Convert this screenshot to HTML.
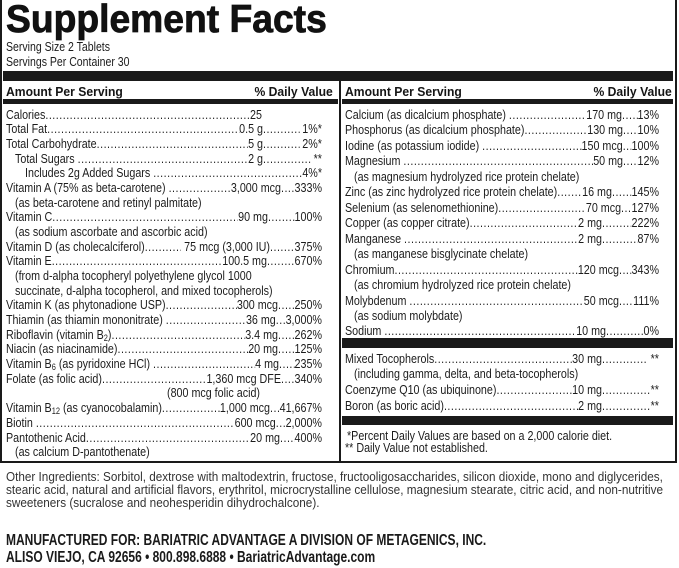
<!DOCTYPE html>
<html><head><meta charset="utf-8">
<style>
html,body{margin:0;padding:0}
body{width:679px;height:568px;position:relative;background:#fff;overflow:hidden;font-family:"Liberation Sans",Arial,sans-serif;color:#1c1c1c}
.b{position:absolute;background:#1a1a1a}
.t{position:absolute;white-space:nowrap;transform-origin:0 0}
.r{position:absolute;display:flex;white-space:nowrap;font-size:13px;line-height:15px;height:15px;transform-origin:0 0;transform:scaleX(.825)}
.r .l,.r .a,.r .p{flex:none}
.r .d{flex:1 1 0;min-width:0;overflow:hidden;letter-spacing:.6px}
.r .d::before{content:"..........................................................................................................................................................................................................."}
.r .rb{display:flex;flex:none}
.s{position:absolute;white-space:nowrap;font-size:13px;line-height:15px;transform-origin:0 0;transform:scaleX(.825)}
.sb{font-size:9px;position:relative;top:2px}
.h{position:absolute;white-space:nowrap;font-size:13px;line-height:15px;font-weight:bold;color:#151515}
</style></head><body>

<!-- frame -->
<div class="b" style="left:0;top:0;width:2px;height:463px"></div>
<div class="b" style="left:675px;top:0;width:2px;height:463px"></div>
<div class="b" style="left:0;top:461px;width:677px;height:2px"></div>
<div class="b" style="left:3px;top:71px;width:670px;height:10px"></div>
<div class="b" style="left:339px;top:81px;width:2px;height:381px"></div>
<div class="b" style="left:3px;top:99px;width:335px;height:5px"></div>
<div class="b" style="left:342px;top:99px;width:331px;height:5px"></div>
<div class="b" style="left:342px;top:338px;width:331px;height:10px"></div>
<div class="b" style="left:342px;top:416px;width:331px;height:9px"></div>

<!-- title -->
<div class="t" style="left:6px;top:0;font-size:39px;line-height:39px;font-weight:bold;color:#111;-webkit-text-stroke:0.8px #111;transform:scaleX(.955)">Supplement Facts</div>
<div class="t" style="left:6px;top:39px;font-size:13px;line-height:15px;transform:scaleX(.81)">Serving Size 2 Tablets</div>
<div class="t" style="left:6px;top:54px;font-size:13px;line-height:15px;transform:scaleX(.81)">Servings Per Container 30</div>

<!-- headers -->
<div class="h" style="left:6px;top:84px;transform-origin:0 0;transform:scaleX(.935)">Amount Per Serving</div>
<div class="h" style="right:346px;top:84px;transform-origin:100% 0;transform:scaleX(.935)">% Daily Value</div>
<div class="h" style="left:345px;top:84px;transform-origin:0 0;transform:scaleX(.935)">Amount Per Serving</div>
<div class="h" style="right:7px;top:84px;transform-origin:100% 0;transform:scaleX(.935)">% Daily Value</div>

<!-- left column -->
<div class="r" style="left:6px;top:106.5px;width:310.3px"><span class="l">Calories</span><span class="d"></span><span class="a">25</span></div>
<div class="r" style="left:6px;top:121.2px;width:383px"><span class="l">Total Fat</span><span class="d"></span><span class="a">0.5 g</span><span class="rb" style="width:71.5px"><span class="d"></span><span class="p">&nbsp;1%*</span></span></div>
<div class="r" style="left:6px;top:135.9px;width:383px"><span class="l">Total Carbohydrate</span><span class="d"></span><span class="a">5 g</span><span class="rb" style="width:71.5px"><span class="d"></span><span class="p">&nbsp;2%*</span></span></div>
<div class="r" style="left:15px;top:150.5px;width:372.1px"><span class="l">Total Sugars&nbsp;</span><span class="d"></span><span class="a">2 g</span><span class="rb" style="width:71.5px"><span class="d"></span><span class="p">&nbsp;**</span></span></div>
<div class="r" style="left:25px;top:165.2px;width:360px"><span class="l">Includes 2g Added Sugars&nbsp;</span><span class="d"></span><span class="p">4%*</span></div>
<div class="r" style="left:6px;top:179.9px;width:383px"><span class="l">Vitamin A (75% as beta-carotene)&nbsp;</span><span class="d"></span><span class="a">3,000 mcg</span><span class="rb" style="width:49.7px"><span class="d"></span><span class="p">333%</span></span></div>
<div class="s" style="left:15px;top:194.6px">(as beta-carotene and retinyl palmitate)</div>
<div class="r" style="left:6px;top:209.3px;width:383px"><span class="l">Vitamin C</span><span class="d"></span><span class="a">90 mg</span><span class="rb" style="width:65.5px"><span class="d"></span><span class="p">100%</span></span></div>
<div class="s" style="left:15px;top:223.9px">(as sodium ascorbate and ascorbic acid)</div>
<div class="r" style="left:6px;top:238.6px;width:383px"><span class="l">Vitamin D (as cholecalciferol)</span><span class="d"></span><span class="a">&nbsp;75 mcg (3,000 IU)</span><span class="rb" style="width:63px"><span class="d"></span><span class="p">375%</span></span></div>
<div class="r" style="left:6px;top:253.3px;width:383px"><span class="l">Vitamin E</span><span class="d"></span><span class="a">100.5 mg</span><span class="rb" style="width:66.7px"><span class="d"></span><span class="p">670%</span></span></div>
<div class="s" style="left:15px;top:268px">(from d-alpha tocopheryl polyethylene glycol 1000</div>
<div class="s" style="left:15px;top:282.7px">succinate, d-alpha tocopherol, and mixed tocopherols)</div>
<div class="r" style="left:6px;top:297.3px;width:383px"><span class="l">Vitamin K (as phytonadione USP)</span><span class="d"></span><span class="a">300 mcg</span><span class="rb" style="width:53.3px"><span class="d"></span><span class="p">250%</span></span></div>
<div class="r" style="left:6px;top:312px;width:383px"><span class="l">Thiamin (as thiamin mononitrate)&nbsp;</span><span class="d"></span><span class="a">36 mg</span><span class="rb" style="width:56px"><span class="d"></span><span class="p">3,000%</span></span></div>
<div class="r" style="left:6px;top:326.7px;width:383px"><span class="l">Riboflavin (vitamin B<span class="sb">2</span>)</span><span class="d"></span><span class="a">3.4 mg</span><span class="rb" style="width:53.3px"><span class="d"></span><span class="p">262%</span></span></div>
<div class="r" style="left:6px;top:341.4px;width:383px"><span class="l">Niacin (as niacinamide)</span><span class="d"></span><span class="a">20 mg</span><span class="rb" style="width:53.3px"><span class="d"></span><span class="p">125%</span></span></div>
<div class="r" style="left:6px;top:356.1px;width:383px"><span class="l">Vitamin B<span class="sb">6</span> (as pyridoxine HCl)&nbsp;</span><span class="d"></span><span class="a">4 mg</span><span class="rb" style="width:52.1px"><span class="d"></span><span class="p">235%</span></span></div>
<div class="r" style="left:6px;top:370.7px;width:383px"><span class="l">Folate (as folic acid)</span><span class="d"></span><span class="a">1,360 mcg DFE</span><span class="rb" style="width:49.7px"><span class="d"></span><span class="p">340%</span></span></div>
<div class="s" style="left:167px;top:385.4px">(800 mcg folic acid)</div>
<div class="r" style="left:6px;top:400.1px;width:383px"><span class="l">Vitamin B<span class="sb">12</span> (as cyanocobalamin)</span><span class="d"></span><span class="a">1,000 mcg</span><span class="rb" style="width:63px"><span class="d"></span><span class="p">41,667%</span></span></div>
<div class="r" style="left:6px;top:414.8px;width:383px"><span class="l">Biotin&nbsp;</span><span class="d"></span><span class="a">600 mcg</span><span class="rb" style="width:56px"><span class="d"></span><span class="p">2,000%</span></span></div>
<div class="r" style="left:6px;top:429.5px;width:383px"><span class="l">Pantothenic Acid</span><span class="d"></span><span class="a">20 mg</span><span class="rb" style="width:50.9px"><span class="d"></span><span class="p">400%</span></span></div>
<div class="s" style="left:15px;top:444.1px">(as calcium D-pantothenate)</div>

<!-- right column -->
<div class="r" style="left:345px;top:106.5px;width:380.6px"><span class="l">Calcium (as dicalcium phosphate)&nbsp;</span><span class="d"></span><span class="a">170 mg</span><span class="rb" style="width:44.8px"><span class="d"></span><span class="p">13%</span></span></div>
<div class="r" style="left:345px;top:122px;width:380.6px"><span class="l">Phosphorus (as dicalcium phosphate)</span><span class="d"></span><span class="a">130 mg</span><span class="rb" style="width:43.6px"><span class="d"></span><span class="p">10%</span></span></div>
<div class="r" style="left:345px;top:137.5px;width:380.6px"><span class="l">Iodine (as potassium iodide)&nbsp;</span><span class="d"></span><span class="a">150 mcg</span><span class="rb" style="width:44px"><span class="d"></span><span class="p">100%</span></span></div>
<div class="r" style="left:345px;top:153px;width:380.6px"><span class="l">Magnesium&nbsp;</span><span class="d"></span><span class="a">50 mg</span><span class="rb" style="width:43.6px"><span class="d"></span><span class="p">12%</span></span></div>
<div class="s" style="left:354px;top:168.5px">(as magnesium hydrolyzed rice protein chelate)</div>
<div class="r" style="left:345px;top:184px;width:380.6px"><span class="l">Zinc (as zinc hydrolyzed rice protein chelate)</span><span class="d"></span><span class="a">16 mg</span><span class="rb" style="width:57px"><span class="d"></span><span class="p">145%</span></span></div>
<div class="r" style="left:345px;top:199.5px;width:380.6px"><span class="l">Selenium (as selenomethionine)</span><span class="d"></span><span class="a">70 mcg</span><span class="rb" style="width:46px"><span class="d"></span><span class="p">127%</span></span></div>
<div class="r" style="left:345px;top:215px;width:380.6px"><span class="l">Copper (as copper citrate)</span><span class="d"></span><span class="a">2 mg</span><span class="rb" style="width:69.1px"><span class="d"></span><span class="p">222%</span></span></div>
<div class="r" style="left:345px;top:230.5px;width:380.6px"><span class="l">Manganese&nbsp;</span><span class="d"></span><span class="a">2 mg</span><span class="rb" style="width:69.1px"><span class="d"></span><span class="p">87%</span></span></div>
<div class="s" style="left:354px;top:246px">(as manganese bisglycinate chelate)</div>
<div class="r" style="left:345px;top:261.5px;width:380.6px"><span class="l">Chromium</span><span class="d"></span><span class="a">120 mcg</span><span class="rb" style="width:48.5px"><span class="d"></span><span class="p">343%</span></span></div>
<div class="s" style="left:354px;top:277px">(as chromium hydrolyzed rice protein chelate)</div>
<div class="r" style="left:345px;top:292.5px;width:380.6px"><span class="l">Molybdenum&nbsp;</span><span class="d"></span><span class="a">50 mcg</span><span class="rb" style="width:48.5px"><span class="d"></span><span class="p">111%</span></span></div>
<div class="s" style="left:354px;top:308px">(as sodium molybdate)</div>
<div class="r" style="left:345px;top:323px;width:380.6px"><span class="l">Sodium&nbsp;</span><span class="d"></span><span class="a">10 mg</span><span class="rb" style="width:64.2px"><span class="d"></span><span class="p">0%</span></span></div>

<div class="r" style="left:345px;top:350.5px;width:380.6px"><span class="l">Mixed Tocopherols</span><span class="d"></span><span class="a">30 mg</span><span class="rb" style="width:69.1px"><span class="d"></span><span class="p">&nbsp;**</span></span></div>
<div class="s" style="left:354px;top:366px">(including gamma, delta, and beta-tocopherols)</div>
<div class="r" style="left:345px;top:382px;width:380.6px"><span class="l">Coenzyme Q10 (as ubiquinone)</span><span class="d"></span><span class="a">10 mg</span><span class="rb" style="width:69.1px"><span class="d"></span><span class="p">**</span></span></div>
<div class="r" style="left:345px;top:397.5px;width:380.6px"><span class="l">Boron (as boric acid)</span><span class="d"></span><span class="a">2 mg</span><span class="rb" style="width:69.1px"><span class="d"></span><span class="p">**</span></span></div>

<div class="s" style="left:347px;top:427.5px">*Percent Daily Values are based on a 2,000 calorie diet.</div>
<div class="s" style="left:345px;top:440px">** Daily Value not established.</div>

<!-- bottom text -->
<div class="t" style="left:6px;top:470.5px;font-size:12.5px;line-height:13px;color:#333;transform:scaleX(.937)">Other Ingredients: Sorbitol, dextrose with maltodextrin, fructose, fructooligosaccharides, silicon dioxide, mono and diglycerides,</div>
<div class="t" style="left:6px;top:483.5px;font-size:12.5px;line-height:13px;color:#333;transform:scaleX(.941)">stearic acid, natural and artificial flavors, erythritol, microcrystalline cellulose, magnesium stearate, citric acid, and non-nutritive</div>
<div class="t" style="left:6px;top:496.5px;font-size:12.5px;line-height:13px;color:#333;transform:scaleX(.94)">sweeteners (sucralose and neohesperidin dihydrochalcone).</div>

<div class="t" style="left:6px;top:533px;font-size:15.5px;line-height:16px;font-weight:bold;color:#1a1a1a;transform:scaleX(.775)">MANUFACTURED FOR: BARIATRIC ADVANTAGE A DIVISION OF METAGENICS, INC.</div>
<div class="t" style="left:6px;top:550px;font-size:15.5px;line-height:16px;font-weight:bold;color:#1a1a1a;transform:scaleX(.775)">ALISO VIEJO, CA 92656 • 800.898.6888 • BariatricAdvantage.com</div>

</body></html>
